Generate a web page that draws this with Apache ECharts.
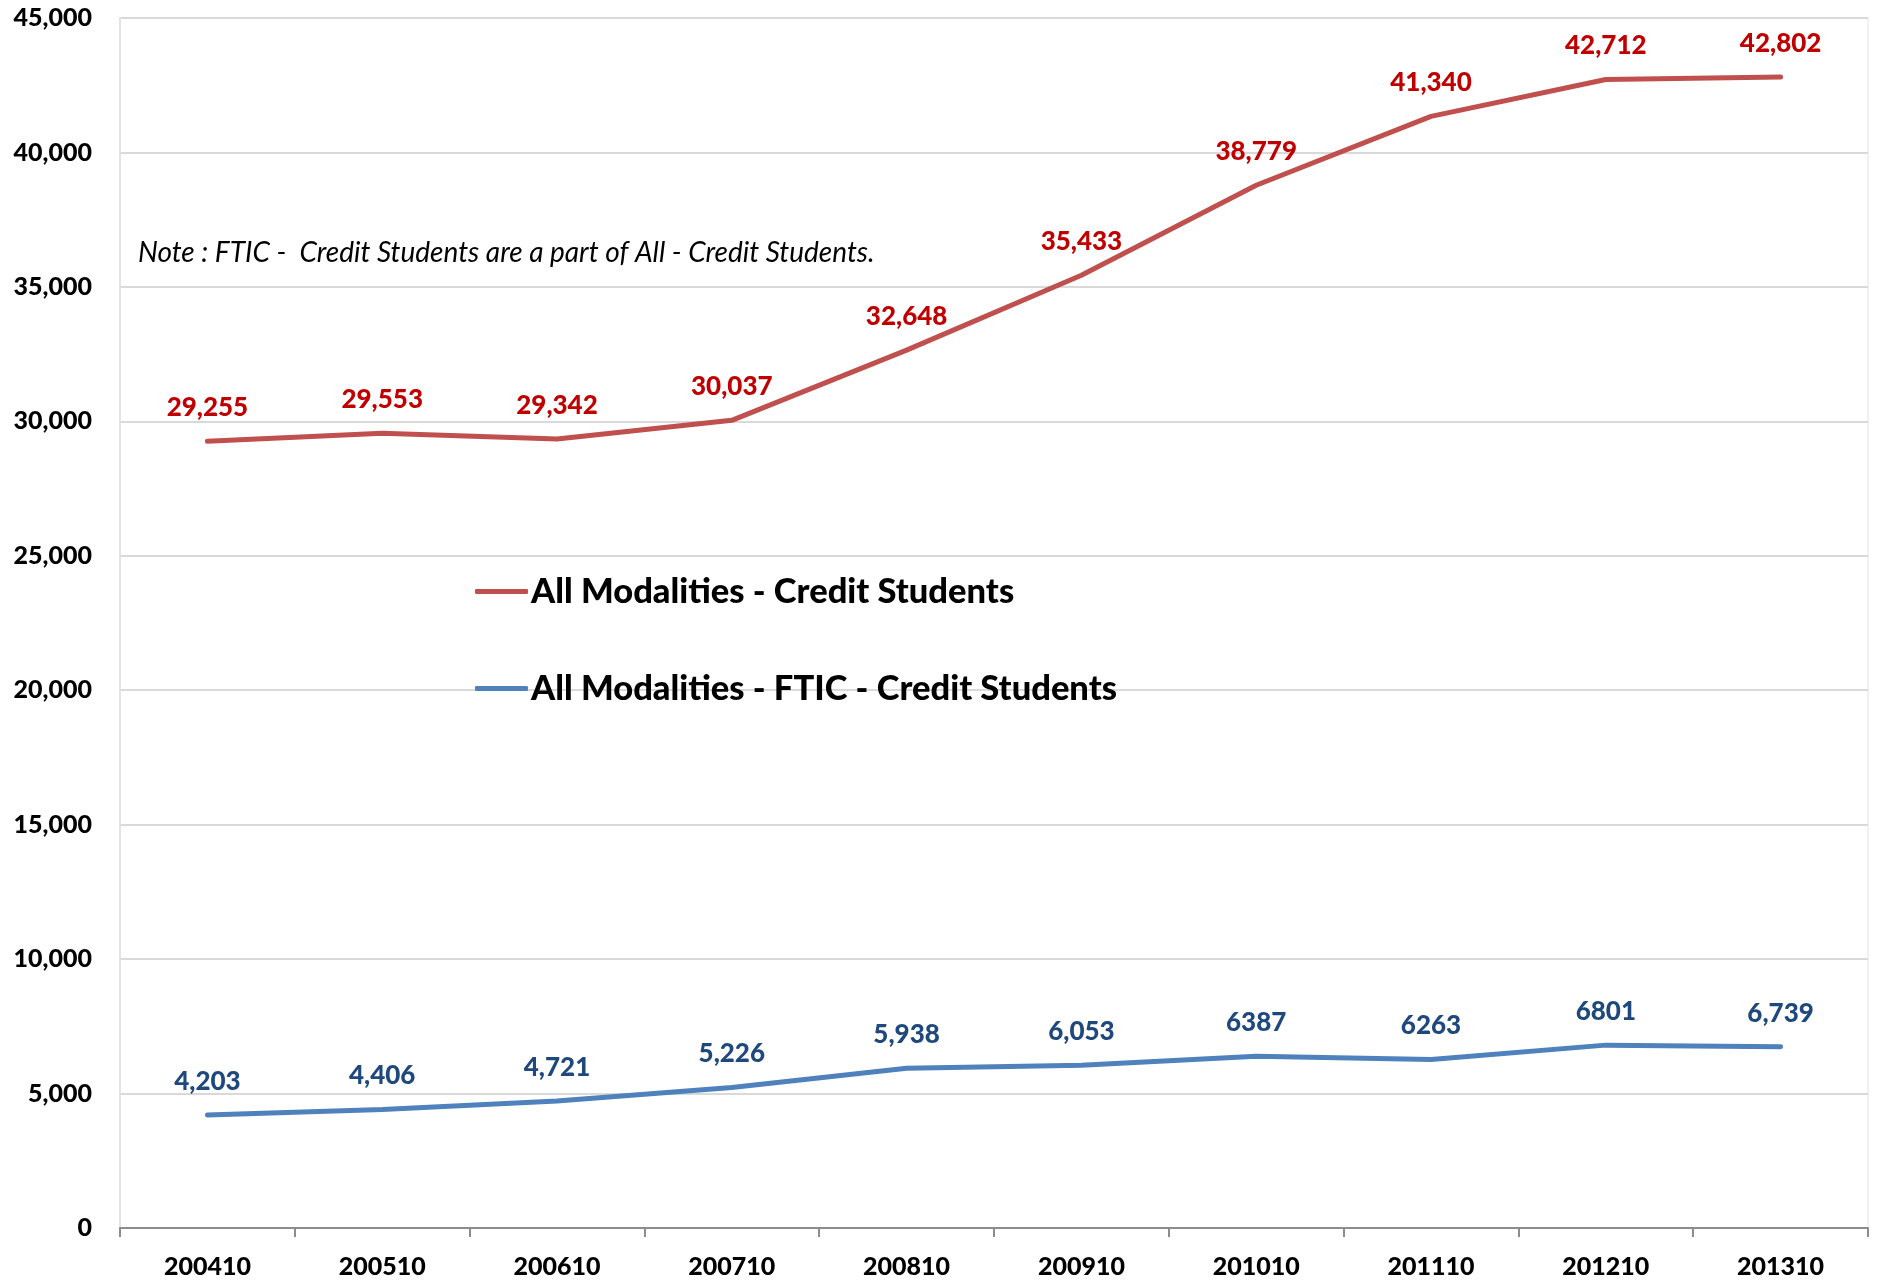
<!DOCTYPE html>
<html>
<head>
<meta charset="utf-8">
<script src="https://cdn.jsdelivr.net/npm/echarts@6/dist/echarts.min.js"></script>
<style>
html,body{margin:0;padding:0;background:#fff;}
#chart{width:1877px;height:1282px;}
</style>
</head>
<body>
<div id="chart"></div>
<script>
const categories = ['200410','200510','200610','200710','200810','200910','201010','201110','201210','201310'];
const allCredit = [29255, 29553, 29342, 30037, 32648, 35433, 38779, 41340, 42712, 42802];
const allCreditLabels = ['29,255','29,553','29,342','30,037','32,648','35,433','38,779','41,340','42,712','42,802'];
const ftic = [4203, 4406, 4721, 5226, 5938, 6053, 6387, 6263, 6801, 6739];
const fticLabels = ['4,203','4,406','4,721','5,226','5,938','6,053','6387','6263','6801','6,739'];
const seriesNames = ['All Modalities - Credit Students', 'All Modalities - FTIC - Credit Students'];
const noteText = 'Note : FTIC -  Credit Students are a part of All - Credit Students.';

const FONT = 'Lato';
const chart = echarts.init(document.getElementById('chart'));
chart.setOption({
  animation: false,
  backgroundColor: '#ffffff',
  grid: {left: 120, right: 9, top: 18, bottom: 54, show: true, borderColor: '#E3E3E3', borderWidth: 1},
  legend: {
    orient: 'vertical',
    left: 470, top: 569,
    itemWidth: 53, itemHeight: 5, itemGap: 62,
    icon: 'roundRect',
    textStyle: {fontFamily: FONT, fontWeight: 900, fontSize: 34.5, color: '#000', padding: [0,0,0,-2]},
    data: seriesNames
  },
  xAxis: {
    type: 'category',
    data: categories,
    boundaryGap: true,
    axisLine: {lineStyle: {color: '#8C8C8C', width: 2}},
    axisTick: {show: true, length: 9, lineStyle: {color: '#8C8C8C', width: 2}},
    axisLabel: {fontFamily: FONT, fontWeight: 900, fontSize: 25, color: '#000', margin: 26}
  },
  yAxis: {
    type: 'value',
    min: 0, max: 45000, interval: 5000,
    axisLine: {show: true, lineStyle: {color: '#E3E3E3', width: 2}},
    axisTick: {show: false},
    splitLine: {lineStyle: {color: '#D9D9D9', width: 2}},
    axisLabel: {fontFamily: FONT, fontWeight: 900, fontSize: 25, color: '#000', margin: 28,
      formatter: v => v === 0 ? '0' : v.toLocaleString('en-US')}
  },
  graphic: [{
    type: 'text', left: 138, top: 239,
    style: {text: noteText, fontFamily: FONT, fontStyle: 'italic', fontSize: 28, fill: '#000'}
  }],
  series: [{
    name: seriesNames[0], type: 'line', data: allCredit,
    showSymbol: true, symbol: 'circle', symbolSize: 1,
    lineStyle: {color: '#C0504D', width: 5, cap: 'round'},
    itemStyle: {color: '#C0504D'},
    label: {show: true, position: 'top', distance: 20, fontFamily: FONT, fontWeight: 900, fontSize: 26, color: '#C00000',
      formatter: p => allCreditLabels[p.dataIndex]}
  }, {
    name: seriesNames[1], type: 'line', data: ftic,
    showSymbol: true, symbol: 'circle', symbolSize: 1,
    lineStyle: {color: '#4F81BD', width: 5, cap: 'round'},
    itemStyle: {color: '#4F81BD'},
    label: {show: true, position: 'top', distance: 20, fontFamily: FONT, fontWeight: 900, fontSize: 26, color: '#1F497D',
      formatter: p => fticLabels[p.dataIndex]}
  }]
});
</script>
</body>
</html>
